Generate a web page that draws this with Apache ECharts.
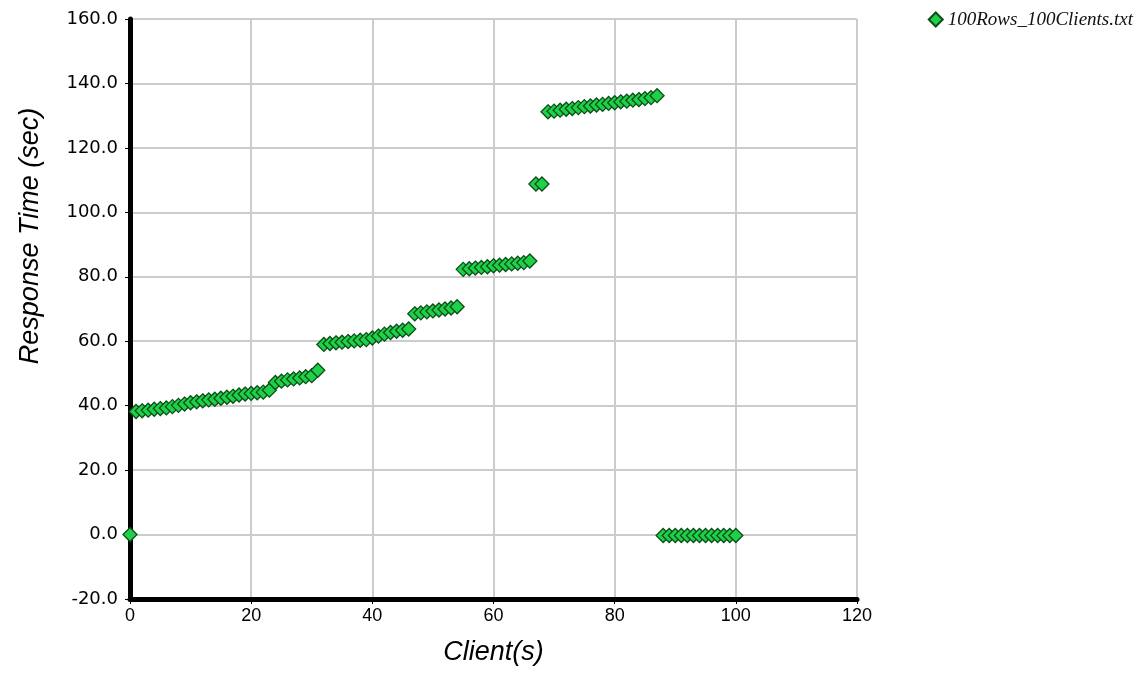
<!DOCTYPE html>
<html>
<head>
<meta charset="utf-8">
<script src="https://cdn.jsdelivr.net/npm/echarts@6/dist/echarts.min.js"></script>
<style>
  html, body { margin: 0; padding: 0; background: #fff; }
</style>
</head>
<body>
<div id="chart" style="width:1143px;height:677px;"></div>
<script>
// client index (x)
const clients = [
  0, 1, 2, 3, 4, 5, 6, 7, 8, 9, 10, 11, 12, 13, 14, 15, 16, 17, 18, 19, 20,
  21, 22, 23, 24, 25, 26, 27, 28, 29, 30, 31, 32, 33, 34, 35, 36, 37, 38, 39, 40,
  41, 42, 43, 44, 45, 46, 47, 48, 49, 50, 51, 52, 53, 54, 55, 56, 57, 58, 59, 60,
  61, 62, 63, 64, 65, 66, 67, 68, 69, 70, 71, 72, 73, 74, 75, 76, 77, 78, 79, 80,
  81, 82, 83, 84, 85, 86, 87, 88, 89, 90, 91, 92, 93, 94, 95, 96, 97, 98, 99, 100
]
// response time in seconds
const responseTimes = [
  0.0,
  38.2, 38.4, 38.6, 38.9, 39.1, 39.3, 39.7, 40.1, 40.5, 40.9,
  41.2, 41.5, 41.8, 42.0, 42.3, 42.6, 42.9, 43.3, 43.6, 43.8,
  44.0, 44.2, 44.8,
  47.2, 47.6, 48.0, 48.3, 48.6, 49.0, 49.3, 51.0,
  59.0, 59.3, 59.5, 59.7, 59.9, 60.1, 60.3, 60.5, 61.0,
  61.6, 62.2, 62.7, 63.1, 63.4, 63.8,
  68.5, 68.8, 69.1, 69.4, 69.7, 70.0, 70.3, 70.7,
  82.3, 82.5, 82.7, 82.9, 83.1, 83.4, 83.6, 83.8, 84.0, 84.2, 84.4, 84.9,
  108.8, 108.8,
  131.2, 131.4, 131.7, 132.0, 132.2, 132.5, 132.8, 133.0, 133.3, 133.5,
  133.8, 134.0, 134.3, 134.5, 134.8, 135.0, 135.3, 135.6, 136.2,
  -0.3, -0.3, -0.3, -0.3, -0.3, -0.3, -0.3, -0.3, -0.3, -0.3, -0.3, -0.3, -0.3
]
const seriesName = '100Rows_100Clients.txt'

const points = clients.map((c, i) => [c, responseTimes[i]])

const myChart = echarts.init(document.getElementById('chart'))
myChart.setOption({
  backgroundColor: '#ffffff',
  animation: false,
  legend: {
    right: 5,
    top: 5,
    itemWidth: 14,
    itemHeight: 14,
    itemGap: 6,
    textStyle: {
      fontFamily: 'Liberation Serif',
      fontStyle: 'italic',
      fontSize: 19,
      color: '#111'
    },
    data: [{ name: seriesName, icon: 'diamond' }]
  },
  grid: {
    left: 130,
    top: 19,
    width: 727,
    height: 580
  },
  xAxis: {
    type: 'value',
    min: 0,
    max: 120,
    interval: 20,
    name: 'Client(s)',
    nameLocation: 'middle',
    nameGap: 40,
    nameTextStyle: {
      fontFamily: 'Liberation Sans',
      fontStyle: 'italic',
      fontSize: 27,
      color: '#000'
    },
    axisLine: {
      onZero: false,
      lineStyle: { color: '#000', width: 5 }
    },
    axisTick: {
      show: true,
      length: 5,
      lineStyle: { color: '#000', width: 1 }
    },
    axisLabel: {
      margin: 8,
      fontFamily: 'Liberation Sans',
      fontSize: 18,
      color: '#000'
    },
    splitLine: {
      show: true,
      lineStyle: { color: '#cccccc', width: 2 }
    }
  },
  yAxis: {
    type: 'value',
    min: -20,
    max: 160,
    interval: 20,
    name: 'Response Time (sec)',
    nameLocation: 'middle',
    nameGap: 86,
    nameTextStyle: {
      fontFamily: 'Liberation Sans',
      fontStyle: 'italic',
      fontSize: 27,
      color: '#000',
      padding: [0, 0, 0, 146]
    },
    axisLine: {
      onZero: false,
      lineStyle: { color: '#000', width: 5 }
    },
    axisTick: {
      show: true,
      length: 5,
      lineStyle: { color: '#000', width: 1 }
    },
    axisLabel: {
      margin: 12,
      fontFamily: 'DejaVu Sans',
      fontSize: 18,
      color: '#000',
      formatter: function (v) {
        return v.toFixed(1)
      }
    },
    splitLine: {
      show: true,
      lineStyle: { color: '#cccccc', width: 2 }
    }
  },
  series: [
    {
      name: seriesName,
      type: 'scatter',
      symbol: 'diamond',
      symbolSize: 14,
      data: points,
      itemStyle: {
        color: '#1fd04a',
        borderColor: '#0c4d17',
        borderWidth: 1.3,
        opacity: 1
      }
    }
  ]
})
</script>
</body>
</html>
